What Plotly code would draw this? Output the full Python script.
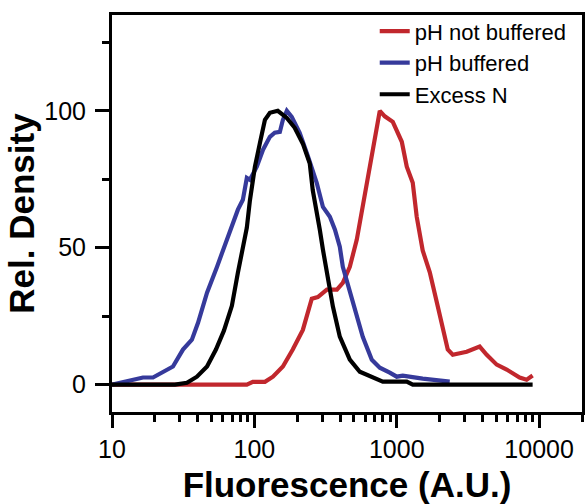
import plotly.graph_objects as go

# ---- data ----
red_x = [10, 27.7, 88.5, 97.5, 118.6, 135, 158.6, 186, 219, 253, 279, 323, 380, 418, 468, 524,
         760, 824, 938, 1085, 1176, 1295, 1381, 1521, 1706, 1942, 2281, 2473, 3100, 3822, 4283,
         5035, 5916, 7297, 8170, 9000]
red_y = [0, 0, 0, 1, 1, 2.9, 6.6, 12.8, 20, 31.4, 32, 34.7, 34.7, 37.2, 43, 53,
         100, 98, 96, 88.7, 79.6, 73.7, 61.3, 49, 41, 28.5, 12.8, 10.9, 12, 13.9, 10.9,
         7.3, 5.5, 2.6, 1.8, 3.3]

blue_x = [10, 12.7, 16.5, 19.4, 22.8, 26.8, 31.5, 36.4, 40.2, 46.5, 54.6, 64.1, 67.3, 76.6, 83,
          88.5, 93, 104, 115, 128.5, 139, 151, 158.6, 169, 183, 208, 237, 274, 303, 339, 368,
          398, 418, 468, 524, 577, 668, 760, 893, 1000, 1102, 1295, 1521, 2355]
blue_y = [0, 1.1, 2.6, 2.6, 4.4, 6.6, 12.8, 16.4, 22.6, 33.6, 43, 52.9, 56.6, 63.9, 67.5,
          75.5, 74.8, 79.6, 85.8, 90.5, 92, 92.3, 96.7, 100, 97.8, 92, 83.6, 73.7, 64.9, 61.3, 56.6,
          50.4, 43, 33.6, 24.8, 17.5, 9.1, 6.2, 4.4, 2.9, 3.3, 2.6, 2.2, 1.1]

black_x = [10, 27.7, 33.6, 39.5, 46.5, 53.7, 61.1, 69.5, 76.6, 84.4, 88.5, 93, 100.9, 109.4,
           118.6, 128.5, 146, 169, 192, 219, 245, 257, 274, 288, 303, 323, 356, 398, 468, 550,
           679, 798, 1176, 1295, 9000]
black_y = [0, 0, 0.7, 2.9, 6.6, 12.8, 19.7, 28.8, 40.9, 53.3, 57.3, 67.2, 79.6, 88.3,
           96.7, 99.3, 100, 97.4, 93.8, 88, 80.7, 71, 63.9, 56.6, 49.3, 41, 28.5, 17.5, 9.1, 4.7,
           2.6, 1.1, 1.1, 0, 0]

series_names = ["pH not buffered", "pH buffered", "Excess N"]
series_colors = ["#c1272d", "#363a9b", "#000000"]

x_tickvals = [10, 100, 1000, 10000]
x_ticktext = ["10", "100", "1000", "10000"]
x_minor = [20, 30, 40, 50, 60, 70, 80, 90, 200, 300, 400, 500, 600, 700, 800, 900,
           2000, 3000, 4000, 5000, 6000, 7000, 8000, 9000, 20000]
y_tickvals = [0, 50, 100]
y_minor = [25, 75, 125]

FONT = "Liberation Sans, Arial, sans-serif"

fig = go.Figure()
for xs, ys, name, col in zip([red_x, blue_x, black_x], [red_y, blue_y, black_y],
                             series_names, series_colors):
    fig.add_trace(go.Scatter(x=xs, y=ys, mode="lines", name=name,
                             line=dict(color=col, width=4.2)))

fig.update_layout(
    width=585, height=504,
    margin=dict(l=112, r=3, t=15, b=92),
    paper_bgcolor="white", plot_bgcolor="white",
    font=dict(family=FONT, color="black", size=25),
    showlegend=True,
    legend=dict(x=0.559, y=1.012, xanchor="left", yanchor="top",
                font=dict(family=FONT, size=22, color="black"),
                bgcolor="rgba(0,0,0,0)", tracegroupgap=0),
)

fig.update_xaxes(
    type="log", range=[1, 4.30103], automargin=False,
    tickvals=x_tickvals, ticktext=x_ticktext,
    ticks="outside", ticklen=13, tickwidth=3, tickcolor="black",
    minor=dict(tickvals=x_minor, ticks="outside", ticklen=7, tickwidth=3, tickcolor="black",
               showgrid=False),
    showline=True, linewidth=3, linecolor="black", mirror=True,
    showgrid=False, zeroline=False,
    tickfont=dict(family=FONT, size=25, color="black"),
    title=dict(text="<b>Fluorescence (A.U.)</b>", font=dict(family=FONT, size=35, color="black"),
               standoff=20),
)
fig.update_yaxes(
    range=[-10, 135], automargin=False,
    tickvals=y_tickvals,
    ticks="outside", ticklen=14, tickwidth=3, tickcolor="black",
    ticklabelstandoff=4,
    minor=dict(tickvals=y_minor, ticks="outside", ticklen=7, tickwidth=3, tickcolor="black",
               showgrid=False),
    showline=True, linewidth=3, linecolor="black", mirror=True,
    showgrid=False, zeroline=False,
    tickfont=dict(family=FONT, size=25, color="black"),
    title=dict(text="<b>Rel. Density</b>", font=dict(family=FONT, size=35, color="black"),
               standoff=0),
)

fig.write_html("out.html")
